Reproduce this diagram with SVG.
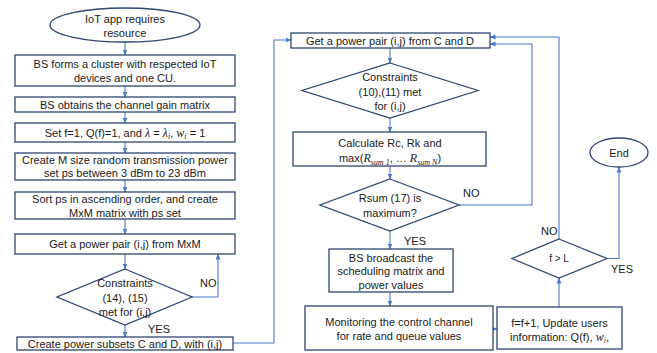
<svg xmlns="http://www.w3.org/2000/svg" width="657" height="353" viewBox="0 0 657 353">
<defs>
<style>
.n{fill:#fff;stroke:#2f4670;stroke-width:1.3}
.t{font-family:"Liberation Sans",Arial,sans-serif;font-size:11px;fill:#1a1a1a;text-anchor:middle}
.m{font-family:"Liberation Serif","DejaVu Serif",serif;font-style:italic;font-size:12px}
.s{font-size:8px}
.c{fill:none;stroke:#4a78c8;stroke-width:1.1}
.l{font-family:"Liberation Sans",Arial,sans-serif;font-size:11px;fill:#1a1a1a}
</style>
<marker id="a" viewBox="0 0 6 6" refX="5.5" refY="3" markerWidth="6" markerHeight="6" markerUnits="userSpaceOnUse" orient="auto">
<path d="M0,0.6 L6,3 L0,5.4 Z" fill="#4a78c8"/>
</marker>
</defs>
<rect width="657" height="353" fill="#fff"/>

<g id="connectors">
<path class="c" d="M125,42 V55" marker-end="url(#a)"/>
<path class="c" d="M125,86 V97" marker-end="url(#a)"/>
<path class="c" d="M125,112 V123" marker-end="url(#a)"/>
<path class="c" d="M125,142 V153" marker-end="url(#a)"/>
<path class="c" d="M125,180 V192" marker-end="url(#a)"/>
<path class="c" d="M125,219 V234" marker-end="url(#a)"/>
<path class="c" d="M125,254 V269" marker-end="url(#a)"/>
<path class="c" d="M125,325 V337" marker-end="url(#a)"/>
<path class="c" d="M192,297 H218 V254" marker-end="url(#a)"/>
<path class="c" d="M233,343 H274 V40 H291" marker-end="url(#a)"/>
<path class="c" d="M390,48 V63" marker-end="url(#a)"/>
<path class="c" d="M390,118 V132" marker-end="url(#a)"/>
<path class="c" d="M390,166 V179" marker-end="url(#a)"/>
<path class="c" d="M390,231 V249" marker-end="url(#a)"/>
<path class="c" d="M390,292 V306" marker-end="url(#a)"/>
<path class="c" d="M493,329 H497" marker-end="url(#a)"/>
<path class="c" d="M559,307 V278" marker-end="url(#a)"/>
<path class="c" d="M559,239 V37 H490" marker-end="url(#a)"/>
<path class="c" d="M459,205 H532 V44 H490" marker-end="url(#a)"/>
<path class="c" d="M607,258.5 H619 V167" marker-end="url(#a)"/>
<text class="l" x="200" y="287">NO</text>
<text class="l" x="148" y="333">YES</text>
<text class="l" x="463" y="197">NO</text>
<text class="l" x="404" y="245">YES</text>
<text class="l" x="541" y="234.7">NO</text>
<text class="l" x="611" y="273">YES</text>
</g>

<g id="start">
<ellipse class="n" cx="125" cy="25" rx="75" ry="17"/>
<text class="t" x="125" y="22.5">IoT app requires</text>
<text class="t" x="125" y="36.5">resource</text>
</g>
<g id="cluster">
<rect class="n" x="15" y="55" width="220" height="31"/>
<text class="t" x="125" y="67.5">BS forms a cluster with respected IoT</text>
<text class="t" x="125" y="82">devices and one CU.</text>
</g>
<g id="gain">
<rect class="n" x="15" y="97" width="220" height="15"/>
<text class="t" x="125" y="108.5">BS obtains the channel gain matrix</text>
</g>
<g id="init">
<rect class="n" x="15" y="123" width="220" height="19"/>
<text class="t" x="125" y="136.5">Set f=1, Q(f)=1, and <tspan class="m">λ</tspan> = <tspan class="m">λ</tspan><tspan class="m s" dy="2.5">i</tspan><tspan dy="-2.5">, </tspan><tspan class="m">w</tspan><tspan class="m s" dy="2.5">i</tspan><tspan dy="-2.5"> = 1</tspan></text>
</g>
<g id="create">
<rect class="n" x="15" y="153" width="220" height="27"/>
<text class="t" x="125" y="163.5">Create M size random transmission power</text>
<text class="t" x="125" y="177">set ps between 3 dBm to 23 dBm</text>
</g>
<g id="sort">
<rect class="n" x="15" y="192" width="220" height="27"/>
<text class="t" x="125" y="203">Sort ps in ascending order, and create</text>
<text class="t" x="125" y="216.5">MxM matrix with ps set</text>
</g>
<g id="pairMxM">
<rect class="n" x="15" y="234" width="220" height="20"/>
<text class="t" x="125" y="247.5">Get a power pair (i,j) from MxM</text>
</g>
<g id="check1415">
<polygon class="n" points="125,269 192,297 125,325 57,297"/>
<text class="t" x="125" y="287">Constraints</text>
<text class="t" x="125" y="301.5">(14), (15)</text>
<text class="t" x="125" y="316">met for (i,j)</text>
</g>
<g id="subsets">
<rect class="n" x="17" y="337" width="216" height="13"/>
<text class="t" x="125" y="347.5">Create power subsets C and D, with (i,j)</text>
</g>

<g id="pairCD">
<rect class="n" x="291" y="33" width="199" height="15"/>
<text class="t" x="390" y="44.5">Get a power pair (i,j) from C and D</text>
</g>
<g id="check1011">
<polygon class="n" points="390,63 478,90.5 390,118 302,90.5"/>
<text class="t" x="390" y="81">Constraints</text>
<text class="t" x="390" y="95.5">(10),(11) met</text>
<text class="t" x="390" y="110">for (i,j)</text>
</g>
<g id="calc">
<rect class="n" x="293" y="132" width="193" height="34"/>
<text class="t" x="390" y="147">Calculate Rc, Rk and</text>
<text class="t" x="390" y="162">max(<tspan class="m">R</tspan><tspan class="m s" dy="2.5">sum 1</tspan><tspan dy="-2.5">, … </tspan><tspan class="m">R</tspan><tspan class="m s" dy="2.5">sum N</tspan><tspan dy="-2.5">)</tspan></text>
</g>
<g id="rsum">
<polygon class="n" points="390,179 459,205 390,231 320,205"/>
<text class="t" x="390" y="202">Rsum (17) is</text>
<text class="t" x="390" y="216.5">maximum?</text>
</g>
<g id="broadcast">
<rect class="n" x="329" y="249" width="124" height="43"/>
<text class="t" x="391" y="261.7">BS broadcast the</text>
<text class="t" x="391" y="275">scheduling matrix and</text>
<text class="t" x="391" y="289">power values</text>
</g>
<g id="monitor">
<rect class="n" x="305" y="306" width="188" height="44"/>
<text class="t" x="399" y="325.7">Monitoring the control channel</text>
<text class="t" x="399" y="339.7">for rate and queue values</text>
</g>
<g id="update">
<rect class="n" x="497" y="307" width="125" height="42"/>
<text class="t" x="559.5" y="326.7">f=f+1, Update users</text>
<text class="t" x="559.5" y="340.7">information: Q(f), <tspan class="m">w</tspan><tspan class="m s" dy="2.5">i</tspan><tspan dy="-2.5">,</tspan></text>
</g>
<g id="fL">
<polygon class="n" points="559,239 607,258.5 559,278 512,258.5"/>
<text class="t" x="559" y="262" style="font-size:10px">f &gt; L</text>
</g>
<g id="end">
<ellipse class="n" cx="619" cy="152.5" rx="29" ry="14.5"/>
<text class="t" x="619" y="156.7">End</text>
</g>
</svg>
